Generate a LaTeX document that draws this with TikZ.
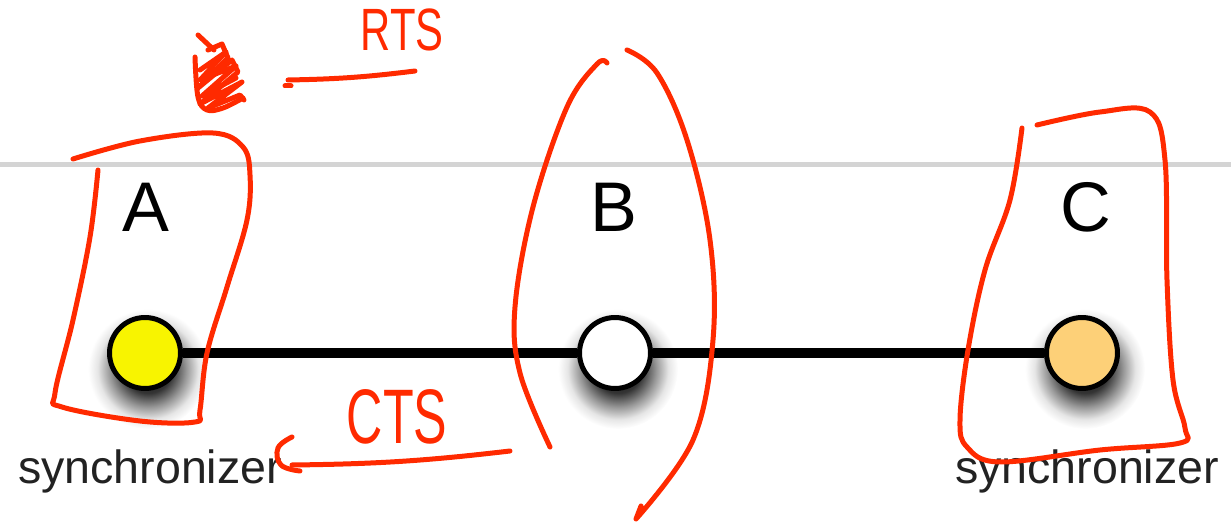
\documentclass[tikz,border=0pt]{standalone}
\usepackage{fontspec}
\setmainfont{Liberation Sans}
\usetikzlibrary{positioning,backgrounds}
\definecolor{penred}{RGB}{255,42,0}
\definecolor{dotyellow}{RGB}{248,244,0}
\definecolor{dotorange}{RGB}{253,208,120}
\definecolor{rulegray}{RGB}{212,212,212}
\definecolor{textgray}{RGB}{34,34,34}
\pgfdeclareradialshading{blurshadow}{\pgfpoint{0bp}{0bp}}{color(0bp)=(black!90); color(10bp)=(black!80); color(16bp)=(black!40); color(21bp)=(black!10); color(25bp)=(white); color(50bp)=(white)}

\begin{document}
\begin{tikzpicture}[
    x=0.02cm, y=-0.02cm,
    dot/.style={circle, draw=black, line width=0.1cm, minimum size=1.42cm, inner sep=0pt},
    letter/.style={anchor=base, font=\fontsize{40}{40}\selectfont, text=black},
    role/.style={anchor=base, font=\fontsize{26.5}{26.5}\selectfont, text=textgray},
    wire/.style={line width=0.19cm, black},
    pen/.style={draw=penred, line width=0.1cm, line cap=round, line join=round},
    pentext/.style={text=penred, inner sep=0pt, transform shape}
]
    \useasboundingbox (0,0) rectangle (1231,523);
    % rule across the top
    \coordinate (ruleL) at (0,165);
    \coordinate (ruleR) at (1231,165);
    \draw[rulegray, line width=0.1cm] (ruleL) -- (ruleR);
    % stations
    \node (a) [dot, fill=dotyellow] at (145,353) {};
    \node (b) [dot, fill=white] at (615,353) {};
    \node (c) [dot, fill=dotorange] at (1082,353) {};
    \node (la) [letter] at (146,232) {A};
    \node (lb) [letter] at (614,232) {B};
    \node (lc) [letter] at (1086,232) {C};
    \node (sa) [role] at (150,483) {synchronizer};
    \node (sc) [role] at (1087,483) {synchronizer};
    \draw[wire] (a) -- (b) -- (c);
    \begin{scope}[on background layer]
        \foreach \n in {a,b,c}
            \shade[shading=blurshadow] ([xshift=0.06cm, yshift=-0.32cm]\n.center) circle[radius=1.2cm];
    \end{scope}
    % hand-drawn marks
    \draw[pen] plot[smooth, tension=0.6] coordinates {(73,159) (140,141) (213,133) (243,147) (250,175) (247,220) (227,287) (207,353) (200,410) (195,422) (140,421) (62,407) (55,393) (73,320) (90,237) (98,170)};
    \draw[pen] plot[smooth, tension=0.6] coordinates {(607,63) (597,64) (567,107) (533,207) (515,307) (520,373) (550,447)};
    \draw[pen] plot[smooth, tension=0.6] coordinates {(627,50) (657,73) (687,140) (710,240) (713,340) (693,440) (636,519)} -- (641,506);
    \draw[pen] plot[smooth, tension=0.6] coordinates {(1022,128) (1010,200) (985,270) (968,350) (960,420) (967,447) (1000,462) (1100,450) (1180,443) (1185,428) (1173,380) (1167,280) (1165,160) (1150,112) (1100,112) (1037,125)};
    % scribbled-out mark
    \draw[pen] (198,35) -- (214,50);
    \draw[pen] plot[smooth, tension=0.6] coordinates {(195,57) (198,97) (207,110) (223,108) (243,98)};
    \draw[pen] (208,50) -- (222,44) -- (228,58) -- (198,88) -- (232,60) -- (238,72) -- (200,104) -- (242,82) -- (208,108) -- (240,95) -- (244,100);
    \draw[pen] (200,70) -- (226,52) -- (200,80) -- (236,66) -- (202,96) -- (236,78);
    % RTS
    \node (rts) [pentext, xscale=0.7, font=\fontsize{34}{34}\selectfont] at (402,30) {RTS};
    \coordinate (rtsL) at (288,80);
    \coordinate (rtsR) at (415,71);
    \draw[pen] (rtsL) to[bend right=3] (rtsR);
    \draw[pen] (285,86) -- (291,86);
    % CTS
    \node (cts) [pentext, xscale=0.65, font=\fontsize{44}{44}\selectfont] at (397,417) {CTS};
    \coordinate (ctsR) at (510,451);
    \coordinate (ctsL) at (292,465);
    \draw[pen] (ctsR) to[bend left=3] (ctsL);
    \draw[pen] plot[smooth, tension=0.7] coordinates {(292,437) (278,448) (281,465) (300,471)};
\end{tikzpicture}
\end{document}
